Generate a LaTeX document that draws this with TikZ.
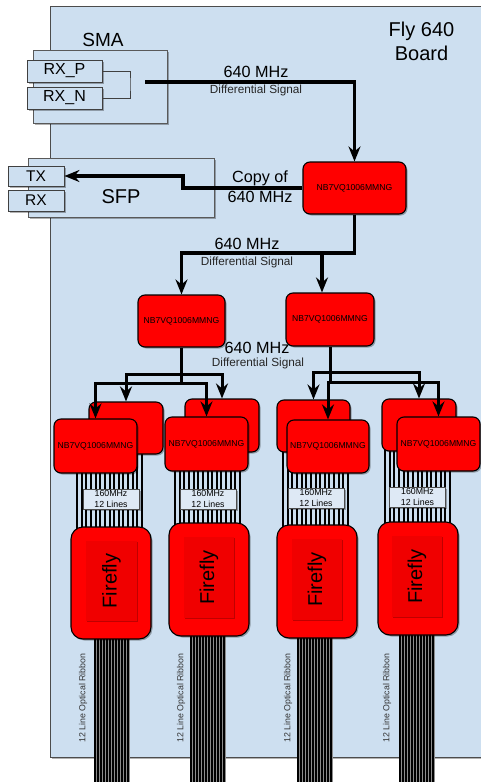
\documentclass[tikz,border=0pt]{standalone}
\usepackage{fontspec}
\setmainfont{Liberation Sans}
\usetikzlibrary{shadows,arrows.meta}
\definecolor{board}{RGB}{205,223,240}
\definecolor{lblfill}{RGB}{222,233,245}
\definecolor{ffin}{RGB}{240,0,0}
\begin{document}
\begin{tikzpicture}[x=1pt,y=-1pt,
  >={Stealth[length=15pt,width=12pt,inset=5pt]},
  shd/.style={drop shadow={shadow xshift=1.5pt,shadow yshift=-1.5pt,opacity=0.3,fill=black}},
  chip/.style={shd,draw=black,line width=1.1pt,fill=red,rounded corners=7pt,inner sep=0pt,font=\fontsize{8.6}{10}\selectfont},
  panel/.style={shd,draw=black!65,line width=0.9pt,fill=board,inner sep=0pt},
  port/.style={panel,draw=black!75,font=\fontsize{16}{18}\selectfont},
  lblbox/.style={shd,draw=black!70,line width=0.9pt,fill=lblfill,inner sep=0pt,minimum width=56,minimum height=20,align=center,font=\fontsize{8.8}{10.5}\selectfont},
  ffout/.style={shd,draw=black,line width=1.1pt,fill=red,rounded corners=12pt,inner sep=0pt,minimum width=80,minimum height=112},
  ffinner/.style={drop shadow={shadow xshift=1.2pt,shadow yshift=-1.2pt,opacity=0.25,fill=black},fill=ffin,inner sep=0pt,rotate=90,minimum width=80,minimum height=51,font=\fontsize{20}{24}\selectfont},
  ribbonlbl/.style={rotate=90,text=black!80,inner sep=0pt,font=\fontsize{8.8}{10}\selectfont},
  bus/.style={line width=3.4pt,line join=miter},
  sbus/.style={line width=3pt,line join=miter},
  wirev/.style={line width=1.8pt,black},
  big/.style={inner sep=0pt,font=\fontsize{16.2}{19.5}\selectfont},
  small/.style={inner sep=0pt,text=black!85,font=\fontsize{11.8}{13}\selectfont}]
\clip (0,0) rectangle (481,782);
% board
\node[panel,draw=black!70,minimum width=445,minimum height=751,anchor=north west] (board) at (50,6) {};
\node[inner sep=0pt,align=center,font=\fontsize{20}{24}\selectfont] (title) at (421.5,41) {Fly 640\\Board};
% SMA
\node[panel,minimum width=134,minimum height=73] (sma) at (100,86.5) {};
\node[inner sep=0pt,font=\fontsize{19}{22}\selectfont] (smat) at (103,40) {SMA};
\node[port,minimum width=75,minimum height=22] (rxp) at (64.5,71) {RX\_P};
\node[port,minimum width=75,minimum height=22] (rxn) at (64.5,98) {RX\_N};
\draw[line width=0.9pt,black!75] (rxp.east) -| (130,84) |- (rxn.east);
\coordinate (smaout) at (145,82);
% SFP
\node[panel,minimum width=186,minimum height=59] (sfp) at (121,187.5) {};
\node[inner sep=0pt,font=\fontsize{20}{24}\selectfont] (sfpt) at (121,197) {SFP};
\node[port,minimum width=56,minimum height=20,font=\fontsize{15.5}{18}\selectfont] (tx) at (36,176) {TX};
\node[port,minimum width=56,minimum height=21,font=\fontsize{15.5}{18}\selectfont] (rx) at (36,200.5) {RX};
% wires under chips
\foreach \xo in {77,175,283,385}{
  \foreach \i in {0,...,14}{
    \pgfmathsetmacro{\wx}{round(\xo+4.65*\i)}
    \draw[wirev] (\wx,440) -- ++(0,95);
  }
}
% ribbons
\foreach \xo in {94,190,297,399}{
  \fill[black!45] (\xo,620) rectangle ++(36,170);
  \foreach \i in {0,...,11}{
    \draw[line width=2pt,black] ({\xo+1+3*\i},620) -- ++(0,170);
  }
}
\node[ribbonlbl] (rl1) at (83,698) {12 Line Optical Ribbon};
\node[ribbonlbl] (rl2) at (181,698) {12 Line Optical Ribbon};
\node[ribbonlbl] (rl3) at (288,698) {12 Line Optical Ribbon};
\node[ribbonlbl] (rl4) at (387,698) {12 Line Optical Ribbon};
% fireflies
\node[ffout] (ff1) at (111,583) {};
\node[ffinner] (fi1) at (111.5,581) {Firefly};
\node[ffout,minimum height=113] (ff2) at (209,579.5) {};
\node[ffinner,minimum width=81,minimum height=50] (fi2) at (209,577.5) {Firefly};
\node[ffout,minimum height=113] (ff3) at (317,581.5) {};
\node[ffinner,minimum width=81,minimum height=50] (fi3) at (317,579.5) {Firefly};
\node[ffout,minimum height=113] (ff4) at (418,578.5) {};
\node[ffinner,minimum width=81,minimum height=50] (fi4) at (417,576.5) {Firefly};
% line labels
\node[lblbox] (l1) at (111,499) {160MHz\\12 Lines};
\node[lblbox] (l2) at (208,499) {160MHz\\12 Lines};
\node[lblbox] (l3) at (316,498) {160MHz\\12 Lines};
\node[lblbox] (l4) at (417.5,497) {160MHz\\12 Lines};
% chips
\node[chip,minimum width=103,minimum height=52] (c1) at (354.5,188) {NB7VQ1006MMNG};
\node[chip,minimum width=87,minimum height=52] (c2) at (181.5,321) {NB7VQ1006MMNG};
\node[chip,minimum width=88,minimum height=53] (c3) at (330,319.5) {NB7VQ1006MMNG};
\node[chip,minimum width=74,minimum height=52] (b1) at (126,428) {};
\node[chip,minimum width=83,minimum height=54] (f1) at (95.5,446) {NB7VQ1006MMNG};
\node[chip,minimum width=74,minimum height=53] (b2) at (222,425.5) {};
\node[chip,minimum width=83,minimum height=54] (f2) at (206.5,444) {NB7VQ1006MMNG};
\node[chip,minimum width=73,minimum height=52] (b3) at (313.5,426) {};
\node[chip,minimum width=82,minimum height=53] (f3) at (328,446.5) {NB7VQ1006MMNG};
\node[chip,minimum width=74,minimum height=52] (b4) at (419,425) {};
\node[chip,minimum width=83,minimum height=54] (f4) at (438.5,444) {NB7VQ1006MMNG};
% buses
\draw[bus,->] (smaout) -- (c1.north |- smaout) -- (c1.north);
\node[big] (t1) at (256,72) {640 MHz};
\node[small] (d1) at (256,90) {Differential Signal};
\draw[bus,->] (c1.west) -| (183,182) |- (tx.east);
\node[big,align=center] (copy) at (260,186.7) {Copy of\\640 MHz};
\draw[bus,->] (c1.south) -- (c1.south |- 0,253) -- (c2.north |- 0,253) -- (c2.north);
\coordinate (c3in) at ([xshift=-8pt]c3.north);
\draw[bus,->] (c3in |- 0,253) -- (c3in);
\node[big] (t2) at (247,244) {640 MHz};
\node[small] (d2) at (247,262) {Differential Signal};
\draw[sbus] (c2.south) -- (c2.south |- 0,383);
\draw[sbus,<->] (b1.north) -- (b1.north |- 0,374) -- (b2.north |- 0,374) -- (b2.north);
\draw[sbus,<->] (f1.north) -- (f1.north |- 0,383) -- (f2.north |- 0,383) -- (f2.north);
\draw[sbus] (c3.south) -- (c3.south |- 0,382);
\draw[sbus,<->] (b3.north) -- (b3.north |- 0,372) -- (b4.north |- 0,372) -- (b4.north);
\draw[sbus,<->] (f3.north) -- (f3.north |- 0,382) -- (f4.north |- 0,382) -- (f4.north);
\node[big] (t3) at (257,348) {640 MHz};
\node[small] (d3) at (258,363) {Differential Signal};
\end{tikzpicture}
\end{document}
